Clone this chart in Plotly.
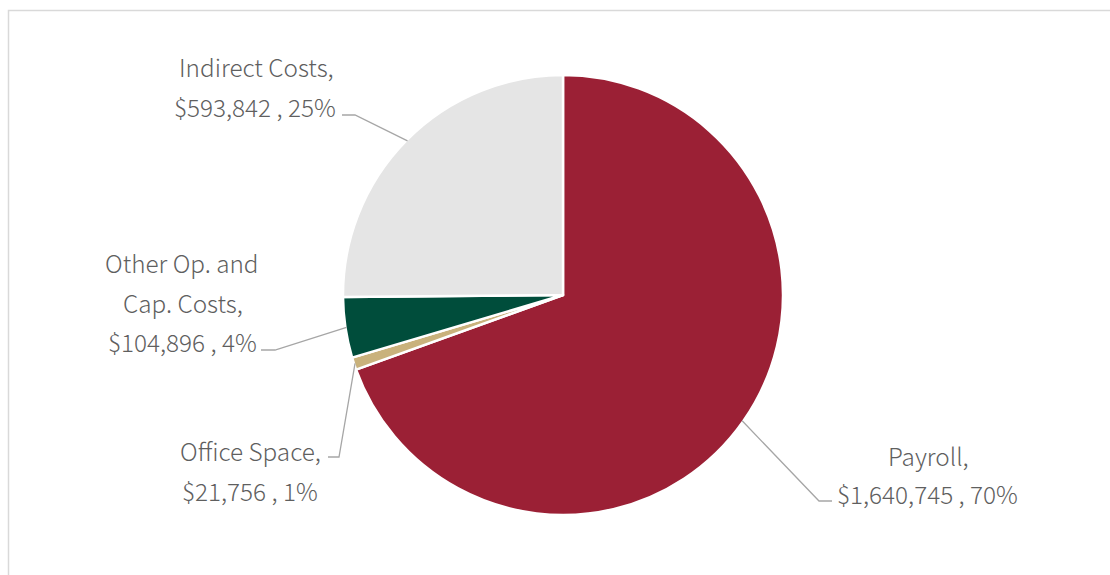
import math
import plotly.graph_objects as go

labels = ["Payroll", "Office Space", "Other Op. and Cap. Costs", "Indirect Costs"]
values = [1640745, 21756, 104896, 593842]
colors = ["#9B2035", "#C9B27C", "#004D3B", "#E5E5E5"]
label_lines = [
    ["Payroll,", "$1,640,745 , 70%"],
    ["Office Space,", "$21,756 , 1%"],
    ["Other Op. and", "Cap. Costs,", "$104,896 , 4%"],
    ["Indirect Costs,", "$593,842 , 25%"],
]

W, H = 1110, 575
CX, CY, R = 563, 295, 220

def px(x):
    return x / W

def py(y):
    return 1 - y / H

fig = go.Figure(go.Pie(
    labels=labels, values=values, sort=False, direction="clockwise", rotation=0,
    marker=dict(colors=colors, line=dict(color="white", width=2.5)),
    textinfo="none", hoverinfo="label+value+percent", showlegend=False,
    domain=dict(x=[px(CX - R), px(CX + R)], y=[py(CY + R), py(CY - R)]),
))

# label text positions (line centers, pixels) and leader-line elbows
text_pos = [
    [(928, 455), (927, 494)],
    [(250, 450), (250, 490)],
    [(182, 262), (183, 302), (182, 341)],
    [(256, 67), (255, 106)],
]
elbows = [
    [(832, 501), (819, 501)],
    [(328, 457), (339, 457)],
    [(261, 350), (275, 350)],
    [(342, 115), (355, 115)],
]

total = sum(values)
cum = 0
shapes = []
annotations = []
for i, v in enumerate(values):
    mid = (cum + v / 2) / total
    cum += v
    ang = 2 * math.pi * mid
    ex = CX + R * math.sin(ang) * 0.995
    ey = CY - R * math.cos(ang) * 0.995
    pts = elbows[i] + [(ex, ey)]
    path = "M " + " L ".join(f"{px(x)},{py(y)}" for x, y in pts)
    shapes.append(dict(type="path", xref="paper", yref="paper", path=path,
                       line=dict(color="#A6A6A6", width=1.3)))
    for (tx, ty), t in zip(text_pos[i], label_lines[i]):
        annotations.append(dict(x=px(tx), y=py(ty), xref="paper", yref="paper",
                                text=t, showarrow=False, xanchor="center", yanchor="middle",
                                font=dict(family="Noto Sans CJK JP", size=24.3, color="#5F5F5F",
                                          weight=300)))

# chart-area border
shapes.append(dict(type="rect", xref="paper", yref="paper",
                   x0=px(8.5), y0=py(600), x1=px(1130), y1=py(10.5),
                   line=dict(color="#D9D9D9", width=1.5), fillcolor="rgba(0,0,0,0)", layer="below"))

fig.update_layout(
    width=W, height=H, margin=dict(l=0, r=0, t=0, b=0),
    paper_bgcolor="white", plot_bgcolor="white",
    shapes=shapes, annotations=annotations,
)
fig.write_html("out.html")
